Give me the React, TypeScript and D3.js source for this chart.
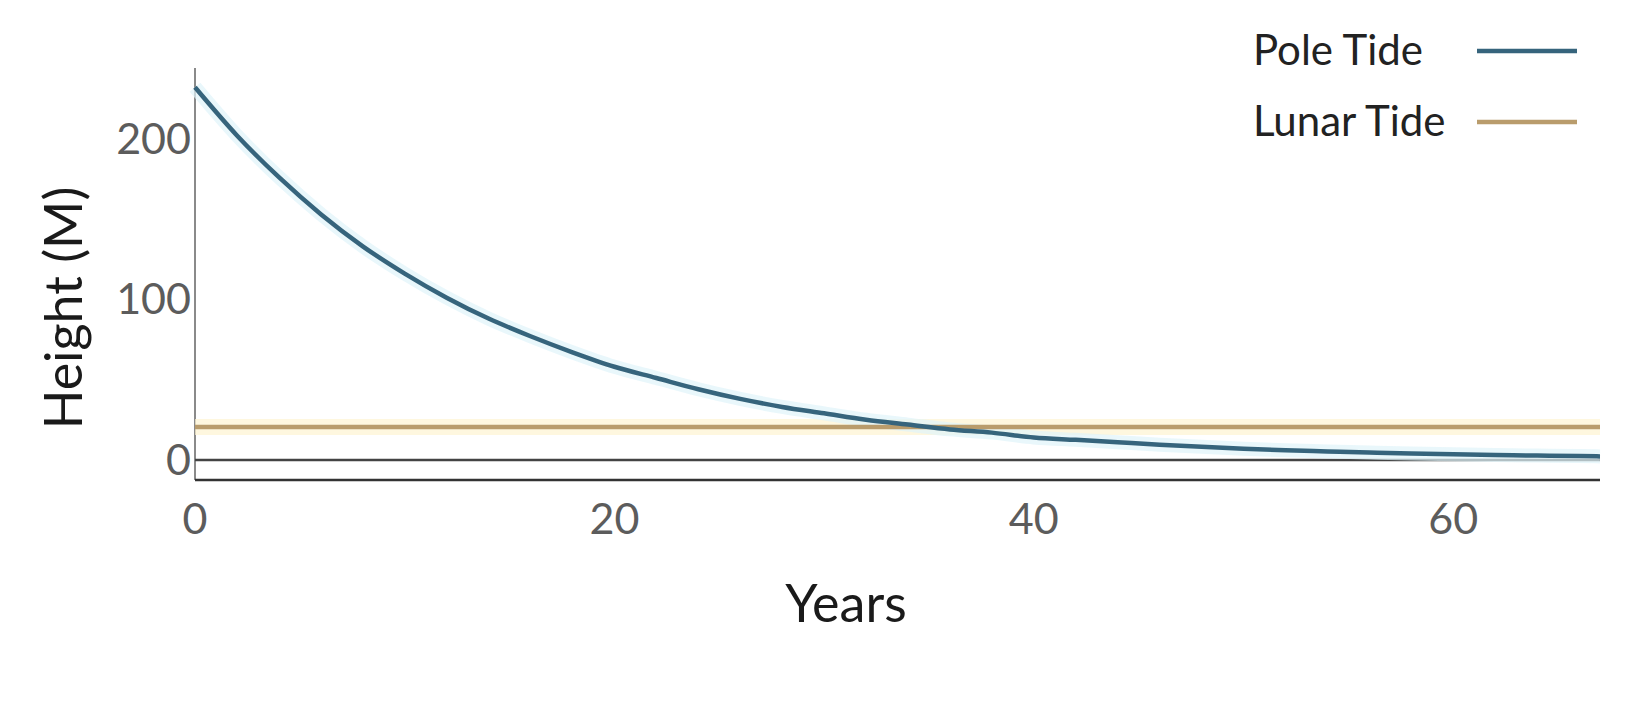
import React from "react";
import * as d3 from "d3";

const years = [0, 2, 4, 6, 8, 10, 12, 14, 16, 18, 20, 22, 24, 26, 28, 30, 32, 34, 36, 38, 40, 42, 44, 46, 48, 50, 52, 54, 56, 58, 60, 62, 64, 66, 67];
const poleTide = [232, 202, 176, 153, 133, 116, 101, 88, 77, 67, 58, 51, 44, 38, 33, 29, 25, 22, 19, 17, 14, 12.5, 11, 9.5, 8.2, 7, 6, 5.3, 4.6, 4, 3.5, 3, 2.7, 2.4, 2.2];
const lunarTide = years.map(() => 20.5);
const xTicks = [0, 20, 40, 60];
const yTicks = [0, 100, 200];
const seriesNames = ["Pole Tide", "Lunar Tide"];

const W = 1637;
const H = 706;
const FONT = "Lato, 'Open Sans', sans-serif";
const POLE = "#36647c";
const LUNAR = "#b99c6c";

export default function App() {
  const x = d3.scaleLinear().domain([0, 67]).range([195, 1600]);
  const y = d3.scaleLinear().domain([-12.5, 244]).range([480, 68]);
  const line = d3
    .line<number>()
    .x((_, i) => x(years[i]))
    .y((d) => y(d))
    .curve(d3.curveMonotoneX);
  const poleD = line(poleTide) || "";
  const lunarD = line(lunarTide) || "";

  return (
    <svg width={W} height={H} style={{ position: "absolute", left: 0, top: 0, background: "#fff" }}>
      {/* y axis line */}
      <line x1={x(0)} x2={x(0)} y1={68} y2={y(-12.5)} stroke="#8a8a8a" strokeWidth={2} />
      {/* zero line */}
      <line x1={x(0)} x2={x(67)} y1={y(0)} y2={y(0)} stroke="#444" strokeWidth={2.5} />
      {/* bottom axis line */}
      <line x1={x(0)} x2={x(67)} y1={y(-12.5)} y2={y(-12.5)} stroke="#333" strokeWidth={2.5} />

      {/* halos */}
      <path d={lunarD} fill="none" stroke="#fdf3d2" strokeWidth={16} opacity={0.7} />
      <path d={poleD} fill="none" stroke="#dff3fa" strokeWidth={14} opacity={0.7} />
      {/* series */}
      <path d={lunarD} fill="none" stroke={LUNAR} strokeWidth={4.5} />
      <path d={poleD} fill="none" stroke={POLE} strokeWidth={4.5} />

      {/* y tick labels */}
      {yTicks.map((t) => (
        <text key={"y" + t} x={x(0) - 4} y={y(t) + 15} textAnchor="end" fontFamily={FONT} fontSize={43} fill="#5c5c5c">
          {t}
        </text>
      ))}
      {/* x tick labels */}
      {xTicks.map((t) => (
        <text key={"x" + t} x={x(t)} y={534} textAnchor="middle" fontFamily={FONT} fontSize={43} fill="#5c5c5c">
          {t}
        </text>
      ))}

      {/* axis titles */}
      <text x={846} y={622} textAnchor="middle" fontFamily={FONT} fontSize={52} fill="#1a1a1a">
        Years
      </text>
      <text
        transform="translate(82,308) rotate(-90)"
        textAnchor="middle"
        fontFamily={FONT}
        fontSize={52}
        fill="#1a1a1a"
      >
        Height (M)
      </text>

      {/* legend */}
      <text x={1253} y={65} fontFamily={FONT} fontSize={42} fill="#222">
        {seriesNames[0]}
      </text>
      <line x1={1477} x2={1577} y1={51} y2={51} stroke={POLE} strokeWidth={4.5} />
      <text x={1253} y={136} fontFamily={FONT} fontSize={42} fill="#222">
        {seriesNames[1]}
      </text>
      <line x1={1477} x2={1577} y1={122} y2={122} stroke={LUNAR} strokeWidth={4.5} />
    </svg>
  );
}
